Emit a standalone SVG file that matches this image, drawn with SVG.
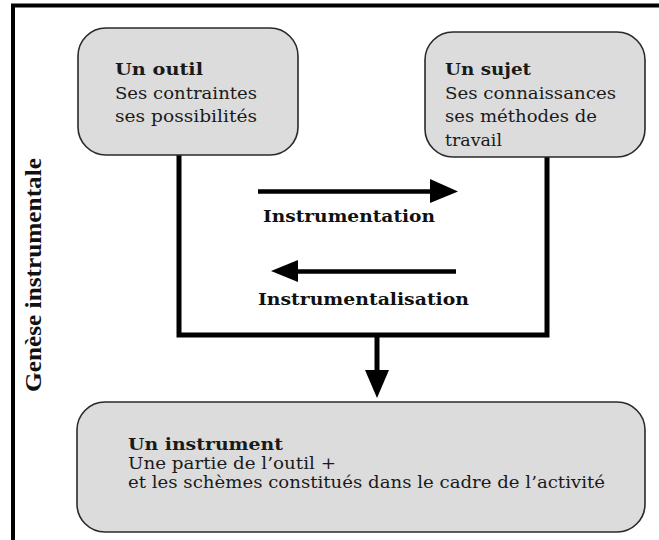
<svg xmlns="http://www.w3.org/2000/svg" width="659" height="540" viewBox="0 0 659 540">
<style>
.box{fill:#dcdcdc;stroke:#2a2a2a;stroke-width:1.6}
.t{font-family:"DejaVu Serif","Liberation Serif",serif;font-size:17px;fill:#1a1a1a}
.b{font-weight:bold}
.lbl{font-family:"DejaVu Serif","Liberation Serif",serif;font-size:17px;font-weight:bold;fill:#111}
.side{font-family:"Liberation Serif","DejaVu Serif",serif;font-size:24px;font-weight:bold;fill:#111}
.wire{fill:none;stroke:#000;stroke-width:5}
.arr{fill:none;stroke:#000;stroke-width:4.5}
</style>
<rect x="0" y="0" width="659" height="540" fill="#fff"/>
<g id="frame">
<rect x="13" y="5.5" width="720" height="600" fill="none" stroke="#000" stroke-width="4"/>
<text class="side" transform="translate(41,392) rotate(-90)" textLength="234" lengthAdjust="spacingAndGlyphs">Genèse instrumentale</text>
</g>
<g id="connectors">
<polyline class="wire" points="179,155 179,335 547,335 547,157"/>
<line class="wire" x1="377" y1="335" x2="377" y2="372"/>
<polygon points="365,370 389,370 377,398" fill="#000"/>
<line class="arr" x1="258" y1="191.5" x2="435" y2="191.5"/>
<polygon points="430,179 458,191.5 430,203" fill="#000"/>
<line class="arr" x1="295" y1="271.5" x2="456" y2="271.5"/>
<polygon points="298,260 271,271 298,282" fill="#000"/>
<text class="lbl" x="263" y="222" textLength="172" lengthAdjust="spacingAndGlyphs">Instrumentation</text>
<text class="lbl" x="258" y="305" textLength="211" lengthAdjust="spacingAndGlyphs">Instrumentalisation</text>
</g>
<g id="outil">
<rect class="box" x="78" y="28" width="220" height="127" rx="28"/>
<text class="t b" x="115" y="75" textLength="88" lengthAdjust="spacingAndGlyphs">Un outil</text>
<text class="t" x="115" y="99" textLength="142" lengthAdjust="spacingAndGlyphs">Ses contraintes</text>
<text class="t" x="115" y="122" textLength="142" lengthAdjust="spacingAndGlyphs">ses possibilités</text>
</g>
<g id="sujet">
<rect class="box" x="425" y="32" width="220" height="125" rx="28"/>
<text class="t b" x="445" y="75" textLength="86" lengthAdjust="spacingAndGlyphs">Un sujet</text>
<text class="t" x="445" y="99" textLength="171" lengthAdjust="spacingAndGlyphs">Ses connaissances</text>
<text class="t" x="445" y="122" textLength="152" lengthAdjust="spacingAndGlyphs">ses méthodes de</text>
<text class="t" x="445" y="146" textLength="57" lengthAdjust="spacingAndGlyphs">travail</text>
</g>
<g id="instrument">
<rect class="box" x="77" y="402" width="568" height="130" rx="28"/>
<text class="t b" x="128" y="450" textLength="155" lengthAdjust="spacingAndGlyphs">Un instrument</text>
<text class="t" x="128" y="469" textLength="208" lengthAdjust="spacingAndGlyphs">Une partie de l’outil +</text>
<text class="t" x="128" y="488" textLength="477" lengthAdjust="spacingAndGlyphs">et les schèmes constitués dans le cadre de l’activité</text>
</g>
</svg>
